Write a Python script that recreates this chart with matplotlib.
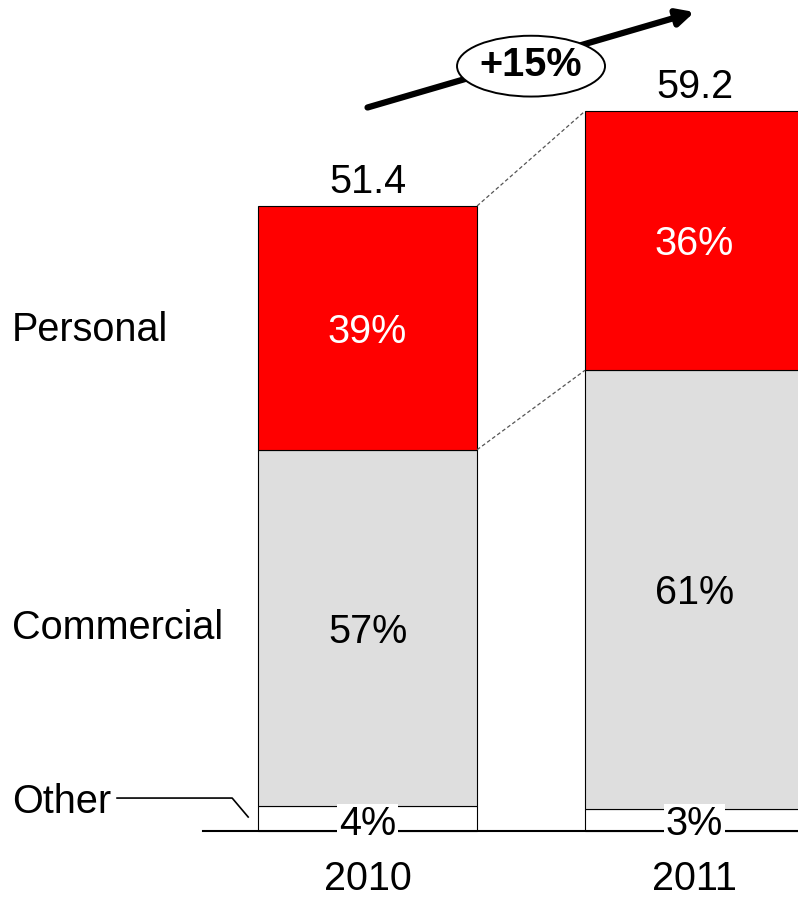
import matplotlib
matplotlib.use("Agg")
import matplotlib.pyplot as plt
from matplotlib.patches import Ellipse

plt.rcParams['font.family'] = ['Liberation Sans', 'DejaVu Sans']

# premium volume by year, split into segment shares (%)
years = ['2010', '2011']
totals = [51.4, 59.2]
other_pct = [4, 3]
commercial_pct = [57, 61]
personal_pct = [39, 36]
growth_label = '+15%'

RED = '#FF0000'
GREY = '#DEDEDE'
FS = 28.5
w = 0.67
dy = -0.3  # nudge labels down a little

fig = plt.figure(figsize=(7.98, 8.98), dpi=100)
ax = fig.add_axes([0, 0, 1, 1])
ax.set_xlim(-1.124, 1.3165)
ax.set_ylim(-5.51, 68.34)
ax.axis('off')

xs = list(range(len(years)))
other = [t * p / 100 for t, p in zip(totals, other_pct)]
comm = [t * p / 100 for t, p in zip(totals, commercial_pct)]
pers = [t * p / 100 for t, p in zip(totals, personal_pct)]
bottom_c = other
bottom_p = [o + c for o, c in zip(other, comm)]

ax.bar(xs, other, w, color='white', edgecolor='black', linewidth=0.8)
ax.bar(xs, comm, w, bottom=bottom_c, color=GREY, edgecolor='black', linewidth=0.8)
ax.bar(xs, pers, w, bottom=bottom_p, color=RED, edgecolor='black', linewidth=0.8)

# baseline
ax.plot([-0.503, 1.4], [0, 0], color='black', lw=1.5, zorder=1)

for i, x in enumerate(xs):
    ax.text(x, totals[i] + 0.4, f'{totals[i]:.1f}', ha='center', va='bottom', fontsize=FS)
    ax.text(x, bottom_p[i] + pers[i] / 2 + dy, f'{personal_pct[i]}%', ha='center', va='center',
            fontsize=FS, color='white')
    ax.text(x, bottom_c[i] + comm[i] / 2 + dy, f'{commercial_pct[i]}%', ha='center', va='center',
            fontsize=FS)
    ax.text(x, 0.55, f'{other_pct[i]}%', ha='center', va='center', fontsize=FS,
            bbox=dict(facecolor='white', edgecolor='none', pad=1), zorder=5)
    ax.text(x, -4.85, years[i], ha='center', va='baseline', fontsize=FS)

# dashed connectors between the bars
for y0, y1 in [(totals[0], totals[1]), (bottom_p[0], bottom_p[1])]:
    ax.plot([w / 2, 1 - w / 2], [y0, y1], color='#555555', lw=0.9, ls=(0, (3, 2)))

# segment names on the left
ax.text(-1.087, bottom_p[0] + pers[0] / 2 - 0.2, 'Personal', ha='left', va='center', fontsize=FS)
ax.text(-1.087, bottom_c[0] + comm[0] / 2 + 0.0, 'Commercial', ha='left', va='center', fontsize=FS)
ax.text(-1.087, 2.4, 'Other', ha='left', va='center', fontsize=FS)
ax.plot([-0.766, -0.414, -0.365], [2.71, 2.71, 1.15], color='black', lw=1.2)

# growth arrow with the ellipse label
ax.annotate('', xy=(1.0, 67.35), xytext=(0.0, 59.5),
            arrowprops=dict(arrowstyle='-|>,head_length=1.0,head_width=0.5', lw=4.5,
                            color='black', shrinkA=0, shrinkB=0))
ax.add_patch(Ellipse((0.5, 62.9), 0.4526, 5.0, facecolor='white', edgecolor='black',
                     lw=1.4, zorder=6))
ax.text(0.5, 63.0, growth_label, ha='center', va='center', fontsize=FS,
        fontweight='bold', zorder=7)

fig.savefig('out.png', dpi=100)
